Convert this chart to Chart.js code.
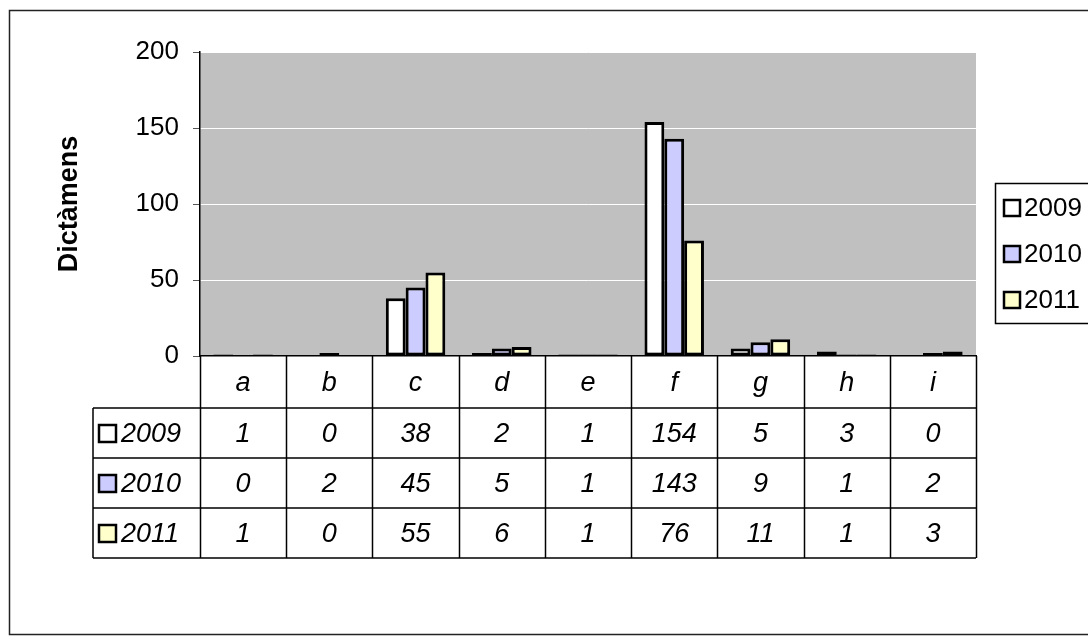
<!DOCTYPE html>
<html>
<head>
<meta charset="utf-8">
<script src="https://cdn.jsdelivr.net/npm/chart.js@4"></script>
<style>
  html, body { margin: 0; padding: 0; background: #fff; }
  #wrap { width: 1088px; height: 642px; }
</style>
</head>
<body>
<div id="wrap"><canvas id="myChart" width="1088" height="642"></canvas></div>
<script>
const categories = ['a', 'b', 'c', 'd', 'e', 'f', 'g', 'h', 'i'];
const years = ['2009', '2010', '2011'];
const values2009 = [1, 0, 38, 2, 1, 154, 5, 3, 0];
const values2010 = [0, 2, 45, 5, 1, 143, 9, 1, 2];
const values2011 = [1, 0, 55, 6, 1, 76, 11, 1, 3];
const yTicks = [0, 50, 100, 150, 200];
const colors = ['#FFFFFF', '#CCCCFF', '#FFFFCC'];

const FONT = "'Liberation Sans', Arial, sans-serif";

// background, outer frame and grey plot area
const backPlugin = {
    id: 'back',
    beforeDraw(chart) {
        const ctx = chart.ctx;
        const a = chart.chartArea;
        ctx.save();
        ctx.fillStyle = '#fff';
        ctx.fillRect(0, 0, chart.width, chart.height);
        ctx.strokeStyle = '#222';
        ctx.lineWidth = 1.5;
        ctx.strokeRect(9.5, 10.5, 1200, 624);
        ctx.fillStyle = '#C0C0C0';
        ctx.fillRect(a.left, a.top, a.right - a.left, a.bottom - a.top);
        ctx.restore();
    }
};

// data table under the axis + legend on the right
const tablePlugin = {
    id: 'dataTable',
    afterDraw(chart) {
        const ctx = chart.ctx;
        const a = chart.chartArea;
        const x = chart.scales.x;
        const colW = (a.right - a.left) / categories.length;
        const headBottom = a.bottom + 52;
        const rowH = 50;
        const tableLeft = 93;
        const rows = [values2009, values2010, values2011];
        const tableBottom = headBottom + rowH * rows.length;

        ctx.save();
        ctx.strokeStyle = '#000';
        ctx.lineWidth = 1.5;
        ctx.beginPath();
        for (let i = 0; i <= categories.length; i++) {
            const cx = Math.round(a.left + i * colW) + 0.5;
            ctx.moveTo(cx, a.bottom);
            ctx.lineTo(cx, tableBottom);
        }
        ctx.moveTo(tableLeft, headBottom);
        ctx.lineTo(tableLeft, tableBottom);
        for (let r = 0; r <= rows.length; r++) {
            const y = headBottom + r * rowH;
            ctx.moveTo(tableLeft, y);
            ctx.lineTo(a.right, y);
        }
        ctx.stroke();

        ctx.fillStyle = '#000';
        ctx.font = 'italic 27px ' + FONT;
        ctx.textAlign = 'center';
        ctx.textBaseline = 'middle';
        categories.forEach((c, i) => {
            ctx.fillText(c, x.getPixelForValue(i), (a.bottom + headBottom) / 2 + 1);
        });
        rows.forEach((vals, r) => {
            const cy = headBottom + r * rowH + rowH / 2 + 1;
            vals.forEach((v, i) => {
                ctx.fillText(String(v), x.getPixelForValue(i), cy);
            });
            // row label with swatch
            ctx.fillStyle = colors[r];
            ctx.fillRect(99, cy - 9, 17, 17);
            ctx.lineWidth = 2.5;
            ctx.strokeRect(99, cy - 9, 17, 17);
            ctx.fillStyle = '#000';
            ctx.textAlign = 'left';
            ctx.fillText(years[r], 121, cy);
            ctx.textAlign = 'center';
        });

        // legend
        ctx.lineWidth = 1.5;
        ctx.strokeStyle = '#000';
        ctx.strokeRect(995.5, 183.5, 200, 140);
        ctx.font = '26px ' + FONT;
        ctx.textAlign = 'left';
        const legY = [208, 254, 300];
        years.forEach((yr, i) => {
            ctx.fillStyle = colors[i];
            ctx.fillRect(1004, legY[i] - 8, 16, 16);
            ctx.lineWidth = 2.5;
            ctx.strokeRect(1004, legY[i] - 8, 16, 16);
            ctx.fillStyle = '#000';
            ctx.fillText(yr, 1024, legY[i] + 1);
        });
        ctx.restore();
    }
};

const ctx = document.getElementById('myChart').getContext('2d');
const myChart = new Chart(ctx, {
    type: 'bar',
    data: {
        labels: categories,
        datasets: [
            { label: years[0], data: values2009, backgroundColor: colors[0] },
            { label: years[1], data: values2010, backgroundColor: colors[1] },
            { label: years[2], data: values2011, backgroundColor: colors[2] }
        ]
    },
    options: {
        responsive: false,
        animation: false,
        devicePixelRatio: 1,
        layout: {
            padding: { left: 0, top: 52, right: 112, bottom: 286 }
        },
        datasets: {
            bar: {
                borderColor: '#000',
                borderWidth: 3,
                borderSkipped: false,
                categoryPercentage: 0.69,
                barPercentage: 1
            }
        },
        plugins: {
            legend: { display: false },
            tooltip: { enabled: false }
        },
        scales: {
            x: {
                ticks: { display: false },
                grid: { display: false },
                border: { display: true, color: '#000', width: 1.5 },
                afterFit: (scale) => { scale.height = 0; }
            },
            y: {
                min: yTicks[0],
                max: yTicks[yTicks.length - 1],
                afterBuildTicks: (scale) => {
                    scale.ticks = yTicks.map(v => ({ value: v }));
                },
                ticks: {
                    color: '#000',
                    padding: 14,
                    font: { family: FONT, size: 26 }
                },
                grid: {
                    color: '#FFFFFF',
                    lineWidth: 1,
                    tickColor: '#555',
                    tickLength: 7
                },
                border: { display: true, color: '#000', width: 1.5 },
                title: {
                    display: true,
                    text: 'Dictàmens',
                    color: '#000',
                    font: { family: FONT, size: 27, weight: 'bold' },
                    padding: { top: 53, bottom: 0 }
                },
                afterFit: (scale) => { scale.width = 200; }
            }
        }
    },
    plugins: [backPlugin, tablePlugin]
});
</script>
</body>
</html>
